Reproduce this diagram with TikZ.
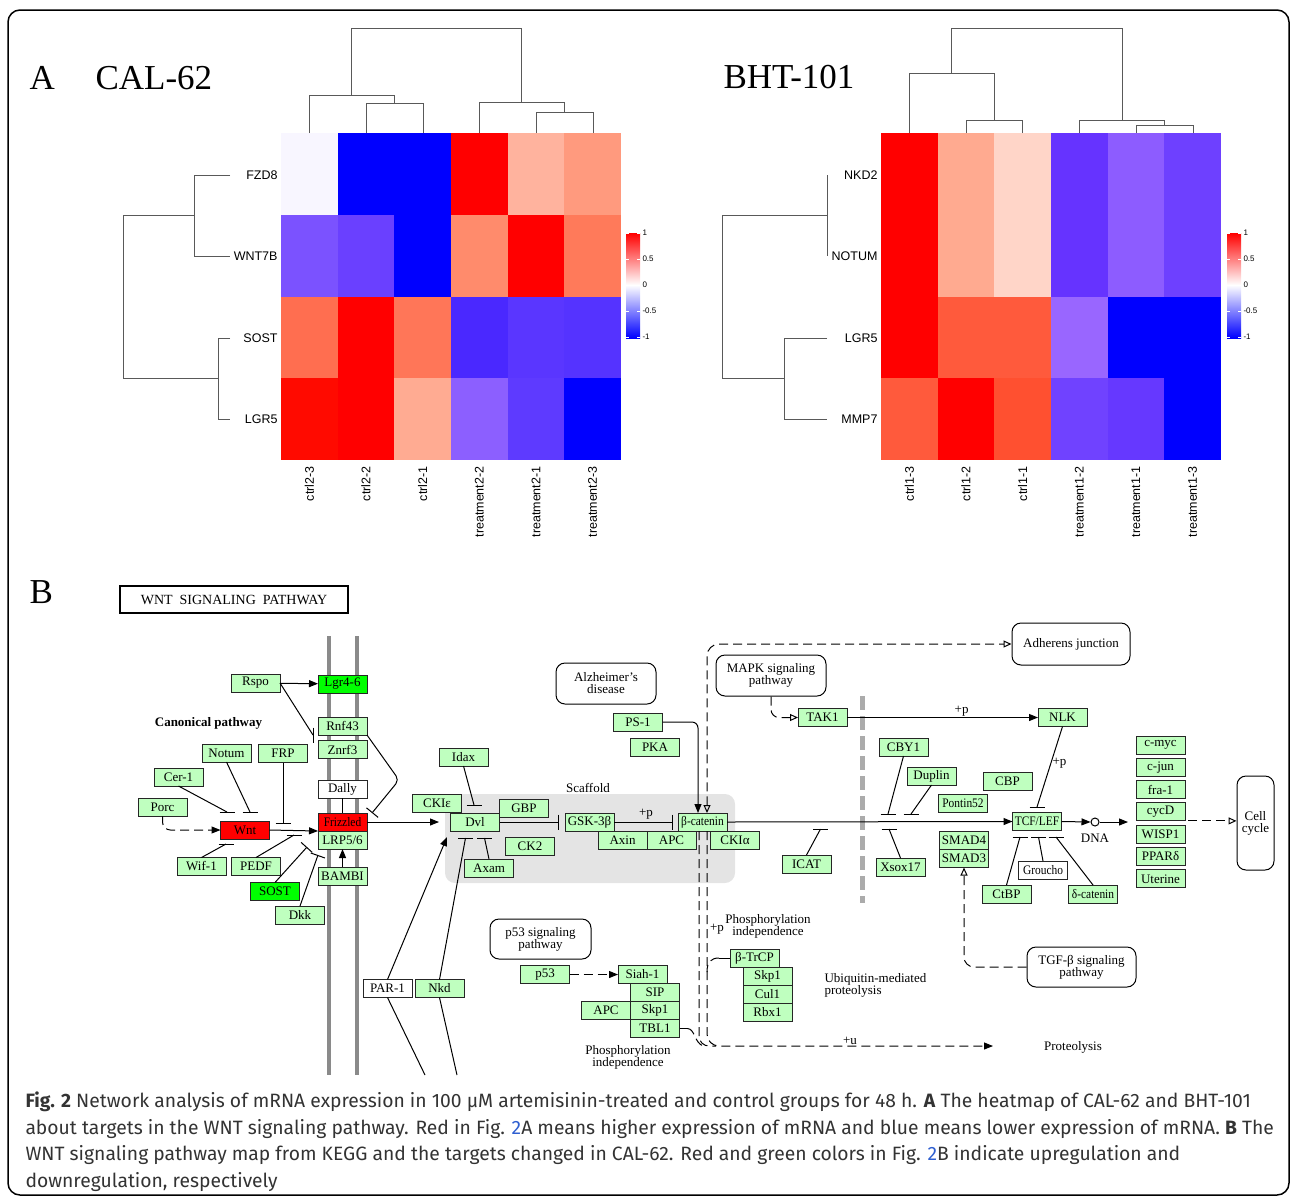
\documentclass[tikz,border=0pt]{standalone}
\usepackage{fontspec}
\setmainfont{Liberation Serif}
\newfontfamily\hmfont{Liberation Sans}
\newfontfamily\capfont{Fira Sans}
\usepackage{xcolor}
\usetikzlibrary{arrows.meta,positioning,calc}
\definecolor{keggg}{HTML}{BFFFBF}
\definecolor{downg}{HTML}{00FF00}
\definecolor{scaf}{HTML}{E4E4E4}
\definecolor{memb}{HTML}{8A8A8A}
\definecolor{linkblue}{HTML}{2F5FD0}
\definecolor{captxt}{HTML}{333333}
\newcommand{\kfont}{\fontsize{13}{12}\selectfont}
\newcommand{\hmlab}{\hmfont\fontsize{12.5}{12.5}\selectfont}
\newcommand{\sq}[1]{\scalebox{0.88}[1]{#1}}
\tikzstyle{gene}=[draw=black!85, line width=1pt, fill=keggg, minimum width=49pt, minimum height=18pt, inner sep=0pt, outer sep=0pt, font=\kfont]
\tikzstyle{upgene}=[gene, fill=red]
\tikzstyle{dngene}=[gene, fill=downg]
\tikzstyle{nogene}=[gene, fill=white]
\tikzstyle{pwbox}=[draw, line width=1pt, rounded corners=9pt, align=center, inner sep=0pt, font=\kfont]
\tikzstyle{ktext}=[font=\kfont, inner sep=1pt]
\tikzstyle{act}=[-{Triangle[length=9pt,width=7pt]}]
\tikzstyle{oact}=[-{Triangle[open,length=8pt,width=7pt]}]
\tikzstyle{inh}=[-{Bar[width=15pt]}]
\tikzstyle{kdash}=[dash pattern=on 9pt off 5pt]
\tikzstyle{dendro}=[draw=black!65, line width=0.8pt]
\newcommand{\hbarat}[1]{\draw ($(#1)+(-7.5,0)$) -- ($(#1)+(7.5,0)$);}
\newcommand{\vbarat}[1]{\draw ($(#1)+(0,-7.5)$) -- ($(#1)+(0,7.5)$);}
\newcommand{\heatmap}[2]{
 \foreach \hrow [count=\j from 0] in {#2} {
  \foreach \hc [count=\i from 0] in \hrow {
   \definecolor{cellc}{HTML}{\hc}
   \fill[cellc] ({#1+\i*56.67},{133+\j*81.75}) rectangle ++(56.7,81.8);
  }
 }
}
\newcommand{\colbar}[1]{
 \shade[top color=red, bottom color=white] (#1,233) rectangle ++(14,52);
 \shade[top color=white, bottom color=blue] (#1,285) rectangle ++(14,53);
 \foreach \tk/\yy in {1/233,0.5/259,0/285,-0.5/311,-1/337} {
  \draw[white, line width=0.6pt] (#1,\yy) -- ++(3,0) ({#1+14},\yy) -- ++(-3,0);
  \node[anchor=west, inner sep=0pt, font=\hmfont\fontsize{8}{8}\selectfont] at ({#1+16},\yy) {\tk};
 }
}

\begin{document}
\begin{tikzpicture}[x=1pt, y=-1pt, line width=1pt]
 \useasboundingbox (0,0) rectangle (1292,1197);
 \draw[line width=1.5pt, rounded corners=12pt] (8,10) rectangle (1289,1195);
%
% A: heatmaps
 \node[anchor=base west, inner sep=0pt, font=\fontsize{35}{35}\selectfont] (lblA) at (29,89) {A};
 \node[anchor=base west, inner sep=0pt, font=\fontsize{35}{35}\selectfont] (calt) at (95,89) {CAL-62};
 \node[anchor=base west, inner sep=0pt, font=\fontsize{35}{35}\selectfont] (bhtt) at (723,88) {BHT-101};
 \heatmap{281}{{F8F6FF,0000FF,0000FF,FF0000,FFB39E,FF9A7E},{7B52FF,6A40FF,0000FF,FF8B6C,FF0000,FF7A5A},{FF6E50,FF0000,FF7658,4A28FF,5A36FF,5533FF},{FF0A00,FF0000,FFAB92,8C5FFF,5E3AFF,0000FF}}
 \heatmap{881}{{FF0000,FFAA90,FFD5C8,6633FF,8D5CFF,6E40FF},{FF0000,FFAA90,FFD5C8,6633FF,8D5CFF,6E40FF},{FF0000,FF5A3C,FF5A3C,9966FF,0000FF,0000FF},{FF5A3C,FF0000,FF5030,7042FF,6638FF,0000FF}}
 \foreach \lab/\yy in {FZD8/175,WNT7B/256,SOST/338,LGR5/419}
  \node[anchor=east, inner sep=0pt, font=\hmlab] (cr-\lab) at (278,\yy) {\lab};
 \foreach \lab/\yy in {NKD2/175,NOTUM/256,LGR5/338,MMP7/419}
  \node[anchor=east, inner sep=0pt, font=\hmlab] (br-\lab) at (878,\yy) {\lab};
 \foreach \lab [count=\i from 0] in {ctrl2-3,ctrl2-2,ctrl2-1,treatment2-2,treatment2-1,treatment2-3}
  \node[rotate=90, anchor=east, inner sep=0pt, font=\hmlab] (cc\i) at ({309.3+\i*56.67},466) {\lab};
 \foreach \lab [count=\i from 0] in {ctrl1-3,ctrl1-2,ctrl1-1,treatment1-2,treatment1-1,treatment1-3}
  \node[rotate=90, anchor=east, inner sep=0pt, font=\hmlab] (bc\i) at ({909.3+\i*56.67},466) {\lab};
 % trees
 \draw[dendro] (366,133) -- (366,103) -- (423,103) -- (423,133);
 \draw[dendro] (309,133) -- (309,95) -- (394.5,95) -- (394.5,103);
 \draw[dendro] (536,133) -- (536,112) -- (593,112) -- (593,133);
 \draw[dendro] (479,133) -- (479,102) -- (564.5,102) -- (564.5,112);
 \draw[dendro] (351.75,95) -- (351.75,28) -- (521.75,28) -- (521.75,102);
 \draw[dendro] (230,175) -- (194,175) -- (194,256) -- (230,256);
 \draw[dendro] (230,338) -- (218,338) -- (218,419) -- (230,419);
 \draw[dendro] (194,215.5) -- (123,215.5) -- (123,378.5) -- (218,378.5);
 \draw[dendro] (966,133) -- (966,120) -- (1022,120) -- (1022,133);
 \draw[dendro] (909,133) -- (909,73) -- (994,73) -- (994,120);
 \draw[dendro] (1136,133) -- (1136,125) -- (1193,125) -- (1193,133);
 \draw[dendro] (1079,133) -- (1079,120) -- (1164.5,120) -- (1164.5,125);
 \draw[dendro] (951.5,73) -- (951.5,28) -- (1122,28) -- (1122,120);
 \draw[dendro] (827,175) -- (827,256);
 \draw[dendro] (827,338) -- (784,338) -- (784,419) -- (827,419);
 \draw[dendro] (827,215.5) -- (722,215.5) -- (722,378.5) -- (784,378.5);
 \colbar{626}
 \colbar{1227}
%
% B: KEGG map
 \node[anchor=base west, inner sep=0pt, font=\fontsize{35}{35}\selectfont] (lblB) at (29,603) {B};
 \node[draw, line width=1.6pt, minimum width=228pt, minimum height=27pt, inner sep=0pt, font=\fontsize{14}{14}\selectfont] (title) at (234,599.5) {WNT\ \ SIGNALING\ \ PATHWAY};
 \draw[memb, line width=4pt] (329,636) -- (329,1075) (357,636) -- (357,1075);
 \fill[scaf, rounded corners=10pt] (445,794) rectangle (735,883);
 \draw[black!33, line width=5pt, dash pattern=on 14pt off 6pt] (862,696) -- (862,903);
%
 \node[gene] (rspo) at (255.5,683) {Rspo};
 \node[dngene] (lgr) at (342.5,684) {Lgr4-6};
 \node[ktext, font=\bfseries\kfont] (canon) at (208.5,723) {Canonical pathway};
 \node[gene] (rnf) at (342.5,726) {Rnf43};
 \node[gene] (znrf) at (342.5,749.5) {Znrf3};
 \node[gene] (notum) at (226.5,753) {Notum};
 \node[gene] (frp) at (283,753.5) {FRP};
 \node[gene] (cer) at (178.5,777) {Cer-1};
 \node[nogene] (dally) at (342.5,789) {Dally};
 \node[gene] (porc) at (162.5,807) {Porc};
 \node[upgene] (wnt) at (245,830) {Wnt};
 \node[upgene] (fzd) at (342.5,822) {\sq{Frizzled}};
 \node[gene, below=0pt of fzd] (lrp) {LRP5/6};
 \node[gene] (wif) at (201.5,866.5) {Wif-1};
 \node[gene] (pedf) at (256,866.5) {PEDF};
 \node[gene] (bambi) at (342.5,876) {BAMBI};
 \node[dngene] (sost) at (275,891.5) {SOST};
 \node[gene] (dkk) at (300,915) {Dkk};
 \node[gene] (idax) at (463.5,757) {Idax};
 \node[gene] (ckie) at (437,803.5) {CKIε};
 \node[gene] (dvl) at (475,822) {Dvl};
 \node[gene] (gbp) at (524,808) {GBP};
 \node[gene] (ck2) at (530,846) {CK2};
 \node[gene] (axam) at (489,868) {Axam};
 \node[ktext] (scaft) at (588,788) {Scaffold};
 \node[gene] (gsk) at (589.5,822) {GSK-3β};
 \node[gene] (axin) at (622.5,840) {Axin};
 \node[gene, right=0pt of axin] (apca) {APC};
 \node[gene] (bcat) at (702.5,822) {\sq{β-catenin}};
 \node[gene] (ckia) at (735,840) {CKIα};
 \node[pwbox, minimum width=100pt, minimum height=41pt] (alz) at (606,683.5) {Alzheimer's\\disease};
 \node[gene] (ps1) at (638,722) {PS-1};
 \node[gene] (pka) at (655,747) {PKA};
 \node[pwbox, minimum width=110pt, minimum height=41pt] (mapk) at (771,675.5) {MAPK signaling\\pathway};
 \node[gene] (tak) at (822.5,717.5) {TAK1};
 \node[gene] (nlk) at (1062.5,717.5) {NLK};
 \node[pwbox, minimum width=118pt, minimum height=42pt] (adh) at (1071,644) {Adherens junction};
 \node[gene] (cby) at (903.5,747) {CBY1};
 \node[gene] (duplin) at (931.5,776) {Duplin};
 \node[gene] (cbp) at (1007.5,781) {CBP};
 \node[gene] (pontin) at (963,803.5) {\sq{Pontin52}};
 \node[gene] (icat) at (806.5,864) {ICAT};
 \node[gene] (xsox) at (900.5,867) {Xsox17};
 \node[gene] (smad4) at (964,840.5) {SMAD4};
 \node[gene, below=0pt of smad4] (smad3) {SMAD3};
 \node[gene] (tcf) at (1037,821.5) {\sq{TCF/LEF}};
 \node[circle, draw, fill=white, inner sep=0pt, minimum size=8pt] (dna) at (1095,822) {};
 \node[ktext] (dnat) at (1095,838) {DNA};
 \node[gene] (myc) at (1160.5,745) {c-myc};
 \node[gene, below=4.3pt of myc] (jun) {c-jun};
 \node[gene, below=4.3pt of jun] (fra) {fra-1};
 \node[gene, below=4.3pt of fra] (cycd) {cycD};
 \node[gene, below=4.3pt of cycd] (wisp) {WISP1};
 \node[gene, below=4.3pt of wisp] (ppar) {PPARδ};
 \node[gene, below=4.3pt of ppar] (uter) {Uterine};
 \node[pwbox, minimum width=37pt, minimum height=94pt] (cell) at (1255.5,823) {Cell\\cycle};
 \node[nogene] (groucho) at (1043,870) {\sq{Groucho}};
 \node[gene] (ctbp) at (1006.5,894) {CtBP};
 \node[gene] (dcat) at (1093,894) {\sq{δ-catenin}};
 \node[pwbox, minimum width=109pt, minimum height=40pt] (tgf) at (1081.5,967) {TGF-β signaling\\pathway};
 \node[pwbox, minimum width=101pt, minimum height=40pt] (p53p) at (540.5,939) {p53 signaling\\pathway};
 \node[gene] (p53) at (545,974.5) {p53};
 \node[gene] (siah) at (642.5,974.5) {Siah-1};
 \node[gene] (sip) at (655,992.5) {SIP};
 \node[gene, below=0pt of sip] (skpa) {Skp1};
 \node[gene, left=0pt of skpa] (apcb) {APC};
 \node[gene, below=0pt of skpa] (tbl) {TBL1};
 \node[gene] (btrcp) at (754.5,958) {β-TrCP};
 \node[gene] (skpb) at (767.5,976) {Skp1};
 \node[gene, below=0pt of skpb] (cul) {Cul1};
 \node[gene, below=0pt of cul] (rbx) {Rbx1};
 \node[nogene] (par) at (387.5,988.5) {PAR-1};
 \node[gene] (nkd) at (439.5,988.5) {Nkd};
 \node[ktext, align=center] (phos1) at (628,1057) {Phosphorylation\\independence};
 \node[ktext, align=center] (phos2) at (768,926) {Phosphorylation\\independence};
 \node[ktext, align=left, anchor=west] (ubq) at (823,985) {Ubiquitin-mediated\\proteolysis};
 \node[ktext] (prot) at (1073,1047) {Proteolysis};
%
% connectors
 \draw[act] (rspo) -- (lgr);
 \coordinate (rnfb) at (313,735);
 \draw (rspo.east) -- (rnfb); \vbarat{rnfb}
 \draw[inh, rounded corners=5pt] (rnf.south east) -- (399,780) -- (372,813);
 \coordinate (dvlt) at (474,805);
 \draw (idax.south) -- (dvlt); \hbarat{dvlt}
 \draw[act, kdash, rounded corners=8pt] (porc.south) |- (wnt.west);
 \coordinate (wb1) at (227,812);
 \draw (cer.south) -- (wb1); \hbarat{wb1}
 \coordinate (wb2) at (250,812);
 \draw (notum.south) -- (wb2); \hbarat{wb2}
 \coordinate (wb3) at (283,823);
 \draw (frp.south) -- (wb3); \hbarat{wb3}
 \draw[act] (wnt.east) -- (fzd.south west);
 \coordinate (wb4) at (226,844);
 \draw (wif.north) -- (wb4); \hbarat{wb4}
 \coordinate (wb5) at (294,835);
 \draw (pedf.north) -- (wb5); \hbarat{wb5}
 \draw[inh] (sost.north) -- (307,847);
 \draw[inh] (dkk.north) -- (318,855);
 \draw[act] (bambi) -- (lrp);
 \draw (dally) -- (fzd);
 \coordinate (dvlin) at (439,822);
 \draw[act] (fzd.east) -- (dvlin);
 \draw[inh, shorten >=6pt] (dvl.east) -- (gsk.west);
 \draw[inh, shorten >=5pt] (gsk.east) -- node[ktext, above=1pt] {+p} (bcat.west);
 \draw[act, rounded corners=6pt] (ps1.east) -| ($(bcat.north)+(-4.5,0)$);
 \draw[kdash, {Triangle[open,length=8pt,width=7pt]}-{Triangle[open,length=8pt,width=7pt]}, rounded corners=12pt] ($(bcat.north)+(4.5,0)$) |- (adh.west);
 \coordinate (protin) at (993,1046);
 \draw[act, kdash, rounded corners=12pt] ($(bcat.south)+(4.5,0)$) |- node[ktext, pos=0.75, above] {+u} (protin);
 \draw[kdash, rounded corners=10pt] ($(bcat.south)+(-3.5,0)$) |- (716,1046);
 \draw (tbl.east) -- ++(8,0) coordinate (tblc);
 \draw[kdash] (tblc) .. controls (695,1029) and (694,1042) .. (703,1046);
 \draw (btrcp.west) -- ++(-11,0) coordinate (btc);
 \draw[kdash] (btc) .. controls (711,958) and (707,962) .. (707,972);
 \node[ktext] (pp2) at (717,929) {+p};
 \draw[oact, kdash, rounded corners=8pt] (mapk.south) |- (tak.west);
 \draw[act] (tak) -- node[ktext, above, pos=0.6] {+p} (nlk);
 \coordinate (tcfb) at (1037,807);
 \draw (nlk.south) -- node[ktext, right, pos=0.45] {+p} (tcfb); \hbarat{tcfb}
 \draw[act] (bcat.east) -- (tcf.west);
 \coordinate (cbyb) at (888,814);
 \draw (cby.south) -- (cbyb); \hbarat{cbyb}
 \coordinate (dupb) at (911,814);
 \draw (duplin.south) -- (dupb); \hbarat{dupb}
 \coordinate (icab) at (820.5,829);
 \draw (icat.north) -- (icab); \hbarat{icab}
 \coordinate (xsob) at (889,829);
 \draw (xsox.north) -- (xsob); \hbarat{xsob}
 \draw[act] (tcf.east) -- (dna.west);
 \coordinate (genein) at (1128,822);
 \draw[act] (dna.east) -- (genein);
 \draw[oact, kdash] ($(cycd.south east)+(3,0)$) -- (cell.west |- cycd.south east);
 \coordinate (ctb) at (1020,837);
 \draw (ctbp.north) -- (ctb); \hbarat{ctb}
 \coordinate (grb) at (1038.5,837);
 \draw (groucho.north) -- (grb); \hbarat{grb}
 \coordinate (dcb) at (1056,837);
 \draw (dcat.north) -- (dcb); \hbarat{dcb}
 \draw[oact, kdash, rounded corners=10pt] (tgf.west) -| (smad3.south);
 \draw[act, kdash] (p53) -- (siah);
 \coordinate (dvlpa) at (447,837);
 \draw[act] (par.north) -- (dvlpa);
 \coordinate (dvlnk) at (465.5,838);
 \draw (nkd.north) -- (dvlnk); \hbarat{dvlnk}
 \coordinate (dvlax) at (484.5,838);
 \draw (axam.north) -- (dvlax); \hbarat{dvlax}
 \draw (par.south) -- (425,1075);
 \draw (nkd.south) -- (457,1075);
%
% caption
 \begin{scope}[every node/.style={anchor=base west, inner sep=0pt, text=captxt, font=\capfont\fontsize{19.3}{19.3}\selectfont}]
 \node (cap1) at (25,1107) {\textbf{Fig. 2} Network analysis of mRNA expression in 100 µM artemisinin-treated and control groups for 48 h. \textbf{A} The heatmap of CAL-62 and BHT-101};
 \node (cap2) at (25,1134) {about targets in the WNT signaling pathway. Red in Fig. \textcolor{linkblue}{2}A means higher expression of mRNA and blue means lower expression of mRNA. \textbf{B} The};
 \node (cap3) at (25,1160) {WNT signaling pathway map from KEGG and the targets changed in CAL-62. Red and green colors in Fig. \textcolor{linkblue}{2}B indicate upregulation and};
 \node (cap4) at (25,1187) {downregulation, respectively};
 \end{scope}
\end{tikzpicture}
\end{document}
